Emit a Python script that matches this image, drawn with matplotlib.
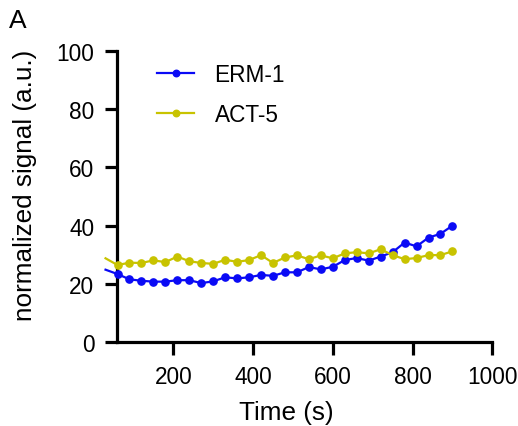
"""
Normalized ERM-1 / ACT-5 signal over time.
"""

import matplotlib
matplotlib.use('Agg')
import matplotlib.pyplot as plt

# time points (s); first point sits left of the axis start
time_s = [30, 60, 90, 120, 150, 180, 210, 240, 270, 300,
          330, 360, 390, 420, 450, 480, 510, 540, 570, 600,
          630, 660, 690, 720, 750, 780, 810, 840, 870, 900]

erm1 = [24.9, 23.4, 21.6, 21.1, 20.8, 20.8, 21.3, 21.3, 20.3, 20.9,
        22.3, 21.9, 22.3, 23.1, 22.8, 24.0, 24.0, 25.8, 25.0, 25.9,
        28.2, 28.9, 28.0, 29.4, 30.9, 34.2, 32.9, 35.9, 37.2, 40.0]

act5 = [28.8, 26.5, 27.3, 27.2, 28.1, 27.5, 29.4, 27.8, 27.2, 26.9,
        28.3, 27.6, 28.2, 29.9, 27.2, 29.1, 29.8, 28.5, 29.8, 28.8,
        30.5, 30.9, 30.5, 31.9, 29.9, 28.5, 28.9, 29.9, 29.9, 31.2]

labels = ['ERM-1', 'ACT-5']
colors = ['#0A0AF5', '#C8C300']
xticks = [200, 400, 600, 800, 1000]
yticks = [0, 20, 40, 60, 80, 100]

plt.rcParams['font.family'] = ['Liberation Sans', 'DejaVu Sans']
fs = 16.3

fig = plt.figure(figsize=(5.18, 4.27), dpi=100)
ax = fig.add_axes([0.2253, 0.196, 0.7251, 0.683])

for series, lab, col in zip([erm1, act5], labels, colors):
    ax.plot(time_s, series, color=col, lw=1.6, marker='o', ms=5.2,
            markevery=list(range(1, len(time_s))), label=lab,
            clip_on=False, zorder=3)

ax.set_xlim(58, 1000)
ax.set_ylim(0, 100)
ax.set_xticks(xticks)
ax.set_yticks(yticks)

for side in ['top', 'right']:
    ax.spines[side].set_visible(False)
for side in ['left', 'bottom']:
    ax.spines[side].set_linewidth(2.3)
ax.tick_params(width=2.3, length=9, labelsize=fs, pad=7)

ax.set_xlabel('Time (s)', fontsize=18.8)
ax.set_ylabel('normalized signal (a.u.)', fontsize=18.8)
ax.xaxis.set_label_coords(0.452, -0.24)
ax.yaxis.set_label_coords(-0.245, 0.543)
ax.xaxis.label.set_va('center')
ax.yaxis.label.set_va('center')

ax.legend(frameon=False, loc='upper left', bbox_to_anchor=(0.107, 0.958),
          borderpad=0, borderaxespad=0, fontsize=fs, handlelength=1.65,
          handletextpad=0.9, labelspacing=0.75, markerscale=0.9)

fig.text(0.018, 0.978, 'A', fontsize=19, va='top', ha='left')

fig.savefig('out.png', dpi=100)
